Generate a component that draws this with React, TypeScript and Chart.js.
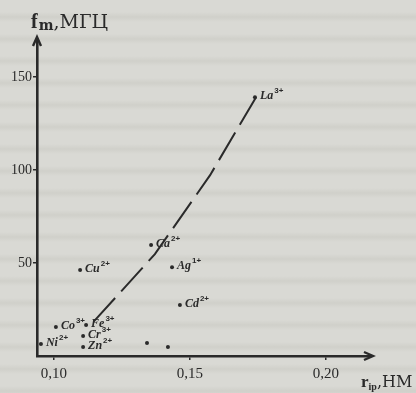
import React, { useEffect, useRef } from "react";
import { Chart, registerables } from "chart.js";

Chart.register(...registerables);

// ---- data ----
const ionNames = ["La", "Ca", "Ag", "Cd", "Cu", "Co", "Ni", "Fe", "Cr", "Zn", "", ""];
const ionCharges = ["3+", "2+", "1+", "2+", "2+", "3+", "2+", "3+", "3+", "2+", "", ""];
const ionRadius = [0.1739, 0.1357, 0.1434, 0.1463, 0.1096, 0.1007, 0.0952, 0.1118, 0.1107, 0.1107, 0.1342, 0.1419];
const ionFreq = [139.2, 59.7, 47.8, 27.4, 46.2, 15.6, 6.5, 16.7, 10.8, 4.8, 7.0, 4.8];

const trendRadius = [0.1743, 0.1574, 0.1371, 0.1125];
const trendFreq = [139.2, 97.3, 54.8, 15.1];

const xTicks = [0.1, 0.15, 0.2];
const xTickLabels = ["0,10", "0,15", "0,20"];
const yTicks = [50, 100, 150];
const yTickLabels = ["50", "100", "150"];

const INK = "#2a2a2a";

const decorPlugin = {
  id: "decor",
  afterDraw(chart: any) {
    const ctx = chart.ctx;
    const { left, right, top, bottom } = chart.chartArea;
    ctx.save();
    ctx.strokeStyle = INK;
    ctx.fillStyle = INK;
    ctx.lineWidth = 2.4;
    // y arrow
    ctx.beginPath();
    ctx.moveTo(left, top);
    ctx.lineTo(left, top - 3);
    ctx.moveTo(left - 4, top + 6);
    ctx.lineTo(left, top - 3);
    ctx.lineTo(left + 4, top + 6);
    ctx.stroke();
    // x arrow
    ctx.beginPath();
    ctx.moveTo(right, bottom);
    ctx.lineTo(right + 3, bottom);
    ctx.moveTo(right - 6, bottom - 4);
    ctx.lineTo(right + 3, bottom);
    ctx.lineTo(right - 6, bottom + 4);
    ctx.stroke();

    // y title
    ctx.textBaseline = "alphabetic";
    ctx.textAlign = "left";
    let x = 31;
    ctx.font = "bold 20px 'Liberation Serif'";
    ctx.fillText("f", x, 28);
    x += ctx.measureText("f").width + 1;
    ctx.font = "bold 14px 'DejaVu Serif'";
    ctx.fillText("m", x, 30);
    x += ctx.measureText("m").width;
    ctx.font = "19px 'DejaVu Serif'";
    ctx.fillText(",МГЦ", x, 28);

    // x title
    x = 361;
    ctx.font = "bold 17px 'Liberation Serif'";
    ctx.fillText("r", x, 387);
    x += ctx.measureText("r").width;
    ctx.font = "bold 10px 'Liberation Serif'";
    ctx.fillText("ip", x, 390);
    x += ctx.measureText("ip").width;
    ctx.font = "16px 'DejaVu Serif'";
    ctx.fillText(",НМ", x, 387);

    // point labels
    const meta = chart.getDatasetMeta(1);
    meta.data.forEach((pt: any, i: number) => {
      const base = ionNames[i];
      if (!base) return;
      let lx = pt.x + 5;
      const ly = pt.y + 2;
      ctx.font = "italic bold 12px 'Liberation Serif'";
      ctx.fillText(base, lx, ly);
      lx += ctx.measureText(base).width + 1;
      ctx.font = "bold 8px 'Liberation Sans'";
      ctx.fillText(ionCharges[i], lx, ly - 6);
    });
    ctx.restore();
  },
};

export default function App() {
  const ref = useRef<HTMLCanvasElement>(null);
  useEffect(() => {
    const canvas = ref.current!;
    const chart = new Chart(canvas, {
      type: "scatter",
      data: {
        datasets: [
          {
            type: "line",
            data: trendRadius.map((r, i) => ({ x: r, y: trendFreq[i] })),
            borderColor: INK,
            borderWidth: 2,
            borderDash: [32, 9],
            pointRadius: 0,
            fill: false,
            tension: 0,
          } as any,
          {
            data: ionRadius.map((r, i) => ({ x: r, y: ionFreq[i] })),
            backgroundColor: INK,
            borderColor: INK,
            pointRadius: 2,
            borderWidth: 0,
          },
        ],
      },
      options: {
        responsive: false,
        animation: false,
        devicePixelRatio: 1,
        layout: { padding: { top: 40, right: 46, left: 0, bottom: 0 } },
        plugins: { legend: { display: false }, tooltip: { enabled: false }, title: { display: false } },
        scales: {
          x: {
            type: "linear",
            min: 0.09375,
            max: 0.2162,
            afterFit: (s: any) => {
              s.height = 37;
            },
            afterBuildTicks: (s: any) => {
              s.ticks = xTicks.map((v) => ({ value: v }));
            },
            grid: { drawOnChartArea: false, drawTicks: true, tickLength: 4, color: INK, lineWidth: 1.5 },
            border: { display: true, color: INK, width: 2.6 },
            ticks: {
              autoSkip: false,
              maxRotation: 0,
              padding: 5,
              color: INK,
              font: { family: "'Liberation Serif'", size: 15 },
              callback: (v: any) => {
                const i = xTicks.findIndex((t) => Math.abs(t - v) < 1e-6);
                return i >= 0 ? xTickLabels[i] : "";
              },
            },
          },
          y: {
            type: "linear",
            min: 0,
            max: 170,
            afterFit: (s: any) => {
              s.width = 37;
            },
            afterBuildTicks: (s: any) => {
              s.ticks = yTicks.map((v) => ({ value: v }));
            },
            grid: { drawOnChartArea: false, drawTicks: true, tickLength: 4, color: INK, lineWidth: 1.5 },
            border: { display: true, color: INK, width: 2.6 },
            ticks: {
              autoSkip: false,
              padding: 1,
              color: INK,
              font: { family: "'Liberation Serif'", size: 14 },
              callback: (v: any) => {
                const i = yTicks.findIndex((t) => Math.abs(t - v) < 1e-6);
                return i >= 0 ? yTickLabels[i] : "";
              },
            },
          },
        },
      },
      plugins: [decorPlugin],
    });
    return () => chart.destroy();
  }, []);

  return (
    <div
      style={{
        position: "fixed",
        left: 0,
        top: 0,
        width: 416,
        height: 393,
        background:
          "repeating-linear-gradient(180deg, #d9d9d4 0px, #d9d9d4 12px, #d0d0ca 17px, #d9d9d4 22px)",
        overflow: "hidden",
      }}
    >
      <canvas ref={ref} width={416} height={393} style={{ display: "block" }} />
    </div>
  );
}
